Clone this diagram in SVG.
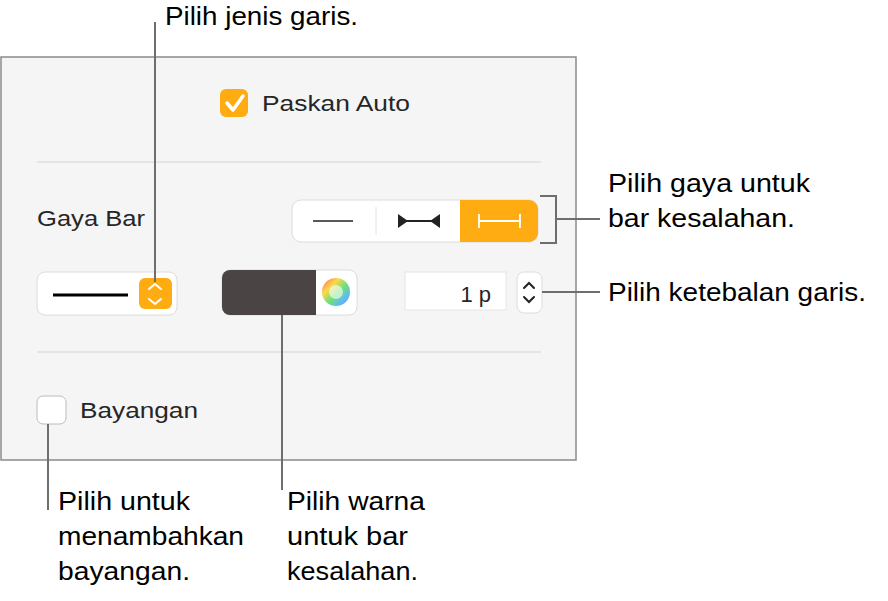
<svg xmlns="http://www.w3.org/2000/svg" width="888" height="601" viewBox="0 0 888 601">
<style>
text{font-family:"Liberation Sans",Arial,sans-serif;fill:#1a1a1a}
.c{font-size:25px;fill:#000}
.u{font-size:22px;fill:#262626}
.ln{stroke:#6e6e6e;stroke-width:2;fill:none}
.w{fill:#fff;stroke:#dcdcdc;stroke-width:1}
</style>
<rect width="888" height="601" fill="#fff"/>
<g id="panel">
<rect x="1" y="57" width="575" height="403" fill="#f5f5f5" stroke="#8a8a8a" stroke-width="1.5"/>
<line x1="37" y1="162" x2="541" y2="162" stroke="#dedede" stroke-width="1.5"/>
<line x1="37" y1="352" x2="541" y2="352" stroke="#dedede" stroke-width="1.5"/>
</g>
<g id="autofit">
<rect x="220" y="89" width="28" height="28" rx="6" fill="#ffac12"/>
<path d="M227 103 l6 7 l10 -14" stroke="#fff" stroke-width="3.5" fill="none" stroke-linecap="round" stroke-linejoin="round"/>
<text x="262" y="111" class="u" textLength="148" lengthAdjust="spacingAndGlyphs">Paskan Auto</text>
</g>
<g id="barstyle">
<text x="37" y="226" class="u" font-size="21" textLength="108" lengthAdjust="spacingAndGlyphs">Gaya Bar</text>
<rect x="292" y="200" width="246" height="42" rx="9" class="w"/>
<path d="M460 200 h69 a9 9 0 0 1 9 9 v24 a9 9 0 0 1 -9 9 h-69 z" fill="#ffac12"/>
<line x1="313" y1="221" x2="353" y2="221" stroke="#222" stroke-width="1.5"/>
<line x1="376" y1="207" x2="376" y2="235" stroke="#e2e2e2" stroke-width="1"/>
<line x1="398" y1="221" x2="438" y2="221" stroke="#222" stroke-width="2"/>
<path d="M398 214 v14 l10 -7 z M440 214 v14 l-10 -7 z" fill="#222"/>
<path d="M479 214 v14 M479 221 h41 M520 214 v14" stroke="#fff" stroke-width="1.8" fill="none"/>
</g>
<g id="linetype">
<rect x="37" y="272" width="140" height="43" rx="8" class="w"/>
<line x1="53" y1="295" x2="128" y2="295" stroke="#000" stroke-width="3"/>
<rect x="139" y="278" width="33" height="31" rx="6" fill="#ffac12"/>
<path d="M149 289 l6 -5 l6 5 M149 299 l6 5 l6 -5" stroke="#fff" stroke-width="2" fill="none" stroke-linecap="round"/>
</g>
<g id="color">
<rect x="222" y="270" width="135" height="45" rx="8" class="w"/>
<path d="M230 270 h86 v45 h-86 a8 8 0 0 1 -8 -8 v-29 a8 8 0 0 1 8 -8 z" fill="#4a4444"/>
<defs><linearGradient id="cw" x1="0" y1="0" x2="1" y2="1"><stop offset="0" stop-color="#ff5a5a"/><stop offset="0.3" stop-color="#ffd84a"/><stop offset="0.55" stop-color="#6fe07a"/><stop offset="0.8" stop-color="#5ab8ff"/><stop offset="1" stop-color="#d56bff"/></linearGradient></defs>
<circle cx="336" cy="292" r="14" fill="url(#cw)"/>
<circle cx="336" cy="292" r="7" fill="#fff" opacity="0.6"/>
</g>
<g id="thickness">
<rect x="405" y="272" width="101" height="38" fill="#fff" stroke="#e6e6e6"/>
<text x="491" y="302" class="u" font-size="24" text-anchor="end">1 p</text>
<rect x="517" y="272" width="25" height="41" rx="7" class="w"/>
<path d="M524 288 l5 -5 l5 5 M524 297 l5 5 l5 -5" stroke="#222" stroke-width="2" fill="none" stroke-linecap="round"/>
</g>
<g id="shadow">
<rect x="37" y="396" width="29" height="28" rx="6" fill="#fff" stroke="#bcbcbc"/>
<text x="80" y="418" class="u" textLength="118" lengthAdjust="spacingAndGlyphs">Bayangan</text>
</g>
<g id="connectors">
<line class="ln" x1="155" y1="22" x2="155" y2="282"/>
<path class="ln" d="M540 196 h16 v47 h-16 M556 219 h44"/>
<line class="ln" x1="542" y1="292" x2="600" y2="292"/>
<line class="ln" x1="282" y1="315" x2="282" y2="490"/>
<line class="ln" x1="48" y1="424" x2="48" y2="510"/>
</g>
<g id="callouts">
<text x="165" y="25" class="c" textLength="193" lengthAdjust="spacingAndGlyphs">Pilih jenis garis.</text>
<text x="608" y="192" class="c" textLength="202" lengthAdjust="spacingAndGlyphs">Pilih gaya untuk</text>
<text x="608" y="227" class="c" textLength="187" lengthAdjust="spacingAndGlyphs">bar kesalahan.</text>
<text x="608" y="301" class="c" textLength="258" lengthAdjust="spacingAndGlyphs">Pilih ketebalan garis.</text>
<text x="287" y="510" class="c" textLength="138" lengthAdjust="spacingAndGlyphs">Pilih warna</text>
<text x="287" y="545" class="c" textLength="121" lengthAdjust="spacingAndGlyphs">untuk bar</text>
<text x="287" y="580" class="c" textLength="131" lengthAdjust="spacingAndGlyphs">kesalahan.</text>
<text x="58" y="510" class="c" textLength="132" lengthAdjust="spacingAndGlyphs">Pilih untuk</text>
<text x="58" y="545" class="c" textLength="186" lengthAdjust="spacingAndGlyphs">menambahkan</text>
<text x="58" y="580" class="c" textLength="132" lengthAdjust="spacingAndGlyphs">bayangan.</text>
</g>
</svg>
